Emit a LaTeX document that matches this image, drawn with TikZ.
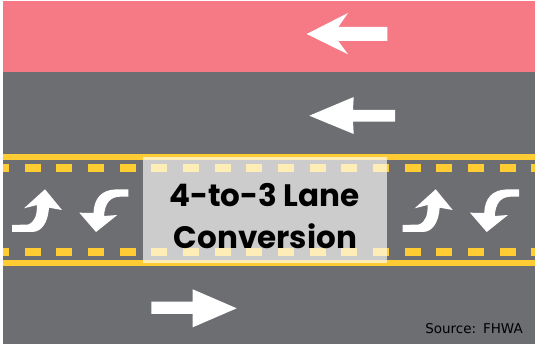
\documentclass[tikz,border=0pt]{standalone}
\usepackage{fontspec}
\setmainfont{Poppins}
\newfontfamily\srcfont{DejaVu Sans}
\definecolor{road}{HTML}{6D6E72}
\definecolor{pinkzone}{HTML}{F67A85}
\definecolor{stripe}{HTML}{FFCC33}
\tikzset{
  roadmark/.style={fill=white,draw=none},
  stripeline/.style={fill=stripe,draw=none},
  titletext/.style={font=\fontsize{31}{31}\selectfont\bfseries,text=black,inner sep=0pt,anchor=base},
}
\newcommand{\turnup}[1]{%
  \fill[roadmark,shift={(#1,0)}] (12,225) -- (28,224.5) .. controls (35,222) and (37,215) .. (37,205)
    -- (24,208.3) -- (45,189.3) -- (62,210) -- (49,207.7)
    .. controls (48,222) and (42,232) .. (32,232) -- (12,232) -- cycle;}
\newcommand{\turndown}[1]{%
  \fill[roadmark,shift={(#1,0)}] (128.3,189.3) -- (115,189.5) .. controls (102,190) and (94,198) .. (93.5,213)
    -- (79.3,212.7) -- (96,232) -- (117.3,215) -- (104,216)
    .. controls (105,203) and (110,197) .. (120,196.7) -- (128.3,196.7) -- cycle;}
\begin{document}
\begin{tikzpicture}[x=1pt,y=-1pt]
\useasboundingbox (0,0) rectangle (535,344);
\fill[white] (0,0) rectangle (535,344);
\fill[pinkzone] (3,1) rectangle (535,72);
\fill[road] (3,72) rectangle (535,344);
% solid lines
\fill[stripeline] (3,154.3) rectangle (535,160.5);
\fill[stripeline] (3,259.7) rectangle (535,265.7);
% dashes
\begin{scope}
\clip (3,150) rectangle (535,270);
\foreach \k in {-1,...,16}{
  \pgfmathsetmacro{\xa}{24.7+31.67*\k}
  \fill[stripeline] (\xa,164) rectangle ++(16,8);
  \fill[stripeline] (\xa,247.7) rectangle ++(16,8);
}
\end{scope}
% straight arrows
\fill[roadmark] (306.7,34) -- (348,13) -- (338.3,27) -- (387.3,27) -- (387.3,41) -- (338.3,41) -- (348,54.3) -- cycle;
\fill[roadmark] (309.3,115.7) -- (353.7,97) -- (353,110) -- (395,110) -- (395,121.7) -- (353,121.7) -- (353.7,134) -- cycle;
\fill[roadmark] (151.3,301.7) -- (192.7,301.7) -- (192.7,289.3) -- (236.7,308.3) -- (192.7,327.3) -- (192.7,314) -- (151.3,314) -- cycle;
% turn arrows
\turnup{0}\turndown{0}\turnup{390.7}\turndown{390.7}
% overlay
\fill[white,opacity=.65] (142.7,156.7) rectangle (387,263);
\node[titletext] (title1) at (264.5,207) {4-to-3 Lane};
\node[titletext] (title2) at (265.5,249) {Conversion};
\node[font=\srcfont\fontsize{13.5}{14}\selectfont,text=black,inner sep=0pt,anchor=base east] (source) at (523,334) {Source:\hspace{2.5pt}\ FHWA};
\end{tikzpicture}
\end{document}
